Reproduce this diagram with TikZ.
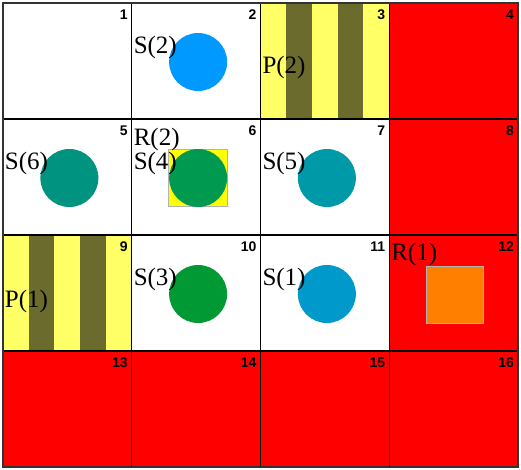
\documentclass[tikz,border=0pt]{standalone}
\usepackage{fontspec}
\setmainfont{Liberation Serif}
\newfontfamily\numfont{Liberation Sans}
\usetikzlibrary{positioning}
\definecolor{wallred}{HTML}{FF0000}
\definecolor{padyellow}{HTML}{FFFF66}
\definecolor{padstripe}{HTML}{6B6B2E}
\definecolor{sblue}{HTML}{0099FF}
\definecolor{steal}{HTML}{009480}
\definecolor{sgreen}{HTML}{009950}
\definecolor{scyan}{HTML}{0099A8}
\definecolor{sleaf}{HTML}{009933}
\definecolor{ssky}{HTML}{0099CC}
\definecolor{robyellow}{HTML}{FFFF00}
\definecolor{roborange}{HTML}{FF8000}

\begin{document}
\begin{tikzpicture}[
    x=1pt, y=-1pt,
    cell/.style={minimum width=128.75pt, minimum height=116pt, inner sep=0pt, fill=white},
    wall/.style={cell, fill=wallred},
    pad/.style={cell, fill=padyellow},
    num/.style={anchor=north east, inner sep=0pt,
        font=\numfont\bfseries\fontsize{14}{14}\selectfont},
    tag/.style={anchor=west, inner sep=0pt, font=\fontsize{25}{25}\selectfont},
    sensor/.style={circle, minimum size=58pt, inner sep=0pt},
    robot/.style={minimum size=57pt, inner sep=0pt, draw=black!30, line width=0.4pt}
]
\useasboundingbox (0,0) rectangle (521,470);

% cells
\foreach \n/\kind in {1/cell,2/cell,3/pad,4/wall,5/cell,6/cell,7/cell,8/wall,
                      9/pad,10/cell,11/cell,12/wall,13/wall,14/wall,15/wall,16/wall} {
    \pgfmathtruncatemacro\col{mod(\n-1,4)}
    \pgfmathtruncatemacro\row{(\n-1)/4}
    \node[\kind] (c\n) at ({3+128.75*(\col+0.5)},{3+116*(\row+0.5)}) {};
}

% stripes of the pads
\foreach \p in {3,9} {
    \fill[padstripe] ([xshift=25.75pt]c\p.north west) rectangle ([xshift=51.5pt]c\p.south west);
    \fill[padstripe] ([xshift=77.25pt]c\p.north west) rectangle ([xshift=103pt]c\p.south west);
}

% grid and cell numbers
\foreach \n in {1,...,16} {
    \draw[line width=1pt] (c\n.north west) rectangle (c\n.south east);
    \node[num] (n\n) at ([xshift=-4pt,yshift=-7pt]c\n.north east) {\n};
}
\draw[line width=2pt, draw=black!80] (c1.north west) rectangle (c16.south east);

% robots
\node[robot, fill=robyellow, minimum width=59pt] (r2) at ([xshift=2pt,yshift=-1pt]c6) {};
\node[robot, fill=roborange] (r1) at ([xshift=1pt,yshift=-1.5pt]c12) {};

% sensors
\node[sensor, fill=sblue] (s2) at ([xshift=2pt,yshift=-1pt]c2) {};
\node[sensor, fill=steal] (s6) at ([xshift=2pt,yshift=-1pt]c5) {};
\node[sensor, fill=sgreen] (s4) at ([xshift=2pt,yshift=-1pt]c6) {};
\node[sensor, fill=scyan] (s5) at ([xshift=2pt,yshift=-1pt]c7) {};
\node[sensor, fill=sleaf] (s3) at ([xshift=2pt,yshift=-1pt]c10) {};
\node[sensor, fill=ssky] (s1) at ([xshift=2pt,yshift=-1pt]c11) {};

% labels
\node[tag] (ls2) at ([xshift=2pt,yshift=-45pt]c2.north west) {S(2)};
\node[tag] (ls6) at ([xshift=2pt,yshift=-45pt]c5.north west) {S(6)};
\node[tag] (lr2) at ([xshift=2pt,yshift=-21pt]c6.north west) {R(2)};
\node[tag] (ls4) at ([xshift=2pt,yshift=-45pt]c6.north west) {S(4)};
\node[tag] (ls5) at ([xshift=2pt,yshift=-45pt]c7.north west) {S(5)};
\node[tag] (lp2) at ([xshift=2pt,yshift=-65pt]c3.north west) {P(2)};
\node[tag] (lp1) at ([xshift=2pt,yshift=-67pt]c9.north west) {P(1)};
\node[tag] (ls3) at ([xshift=2pt,yshift=-45pt]c10.north west) {S(3)};
\node[tag] (ls1) at ([xshift=2pt,yshift=-45pt]c11.north west) {S(1)};
\node[tag] (lr1) at ([xshift=2pt,yshift=-20pt]c12.north west) {R(1)};
\end{tikzpicture}
\end{document}
